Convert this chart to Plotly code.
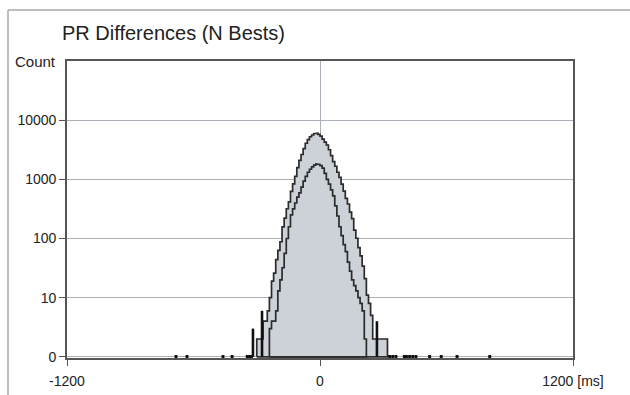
import plotly.graph_objects as go

# ---------------- data ----------------
bin_width = 10  # ms

# outer (N-best) histogram: bins starting at -300 ms
outer_start = -300
outer_counts = [2, 2, 2, 4, 4, 6, 10, 19, 26, 44, 63, 88, 157, 221, 318, 415, 628, 836,
                1119, 1582, 2091, 2627, 3305, 4068, 4681, 5243, 5618, 5893, 6021, 5749,
                5366, 4790, 4262, 3807, 3159, 2515, 1993, 1662, 1316, 1075, 829, 634,
                477, 383, 280, 216, 139, 101, 70, 51, 34, 21, 11, 8, 5,
                2, 2, 2, 2, 2, 2, 2]

# inner (best) histogram: bins starting at -240 ms
inner_start = -240
inner_counts = [3, 4, 4, 6, 13, 20, 32, 56, 100, 158, 251, 316, 398, 501, 589, 741,
                933, 1122, 1318, 1479, 1622, 1738, 1820, 1778, 1698, 1549, 1259, 1000,
                832, 661, 525, 355, 240, 158, 112, 79, 60, 40, 28, 20, 16, 13, 10, 8,
                6, 2]

# isolated single-count outliers (drawn on the baseline)
single_x = [-683, -631, -460, -417, -345, -335, -325, 330, 345, 360, 400, 410, 425,
            440, 455, 520, 575, 650, 805]
# narrow outlier spikes
spike_x = [-318, -275, 270]
spike_counts = [3, 6, 4]

x_ticks = [-1200, 0, 1200]
x_ticktext = ["-1200", "0", "1200 [ms]"]
y_ticks = [1, 10, 100, 1000, 10000]
y_ticktext = ["0", "10", "100", "1000", "10000"]

# ---------------- styling ----------------
FILL = "#cdd1d8"
EDGE = "#2b2b2b"
GRID = "#a9b0b8"
FRAME = "#555555"
FONT = "Liberation Sans, Arial, sans-serif"

W, H = 630, 395
L, R, T, B = 67, 57, 61, 37
PW, PH = W - L - R, H - T - B


def px_x(p):
    return (p - L) / PW


def px_y(p):
    return (H - B - p) / PH


def step_polygon(start, counts):
    xs, ys = [start], [1]
    for i, c in enumerate(counts):
        left = start + i * bin_width
        v = max(c, 1)
        xs += [left, left + bin_width]
        ys += [v, v]
    end = start + len(counts) * bin_width
    xs += [end, start]
    ys += [1, 1]
    return xs, ys


fig = go.Figure()

ox, oy = step_polygon(outer_start, outer_counts)
fig.add_trace(go.Scatter(x=ox, y=oy, mode="lines", fill="toself", fillcolor=FILL,
                         line=dict(color=EDGE, width=1.7), hoverinfo="skip",
                         showlegend=False))
ix, iy = step_polygon(inner_start, inner_counts)
fig.add_trace(go.Scatter(x=ix, y=iy, mode="lines", fill="toself", fillcolor=FILL,
                         line=dict(color=EDGE, width=1.7), hoverinfo="skip",
                         showlegend=False))

# outliers
bx, by = [], []
for x in single_x:
    bx += [x - 7, x + 7, None]
    by += [1, 1, None]
fig.add_trace(go.Scatter(x=bx, y=by, mode="lines", line=dict(color="#111111", width=3.6),
                         hoverinfo="skip", showlegend=False))
sx, sy = [], []
for x, c in zip(spike_x, spike_counts):
    sx += [x, x, None]
    sy += [1, c, None]
fig.add_trace(go.Scatter(x=sx, y=sy, mode="lines", line=dict(color="#111111", width=2.6),
                         hoverinfo="skip", showlegend=False))

fig.update_layout(
    width=W, height=H,
    margin=dict(l=L, r=R, t=T, b=B, pad=0),
    paper_bgcolor="white", plot_bgcolor="white",
    font=dict(family=FONT, size=14, color="#222222"),
    xaxis=dict(range=[-1200, 1200], tickvals=x_ticks, ticktext=x_ticktext,
               showgrid=True, gridcolor=GRID, gridwidth=1.2, zeroline=False,
               showline=True, mirror=True, linecolor=FRAME, linewidth=1.6,
               ticks="outside", ticklen=6, tickcolor=FRAME, tickwidth=1.2,
               ticklabelstandoff=3, tickfont=dict(size=14), automargin=False),
    yaxis=dict(type="log", range=[-0.02, 5], tickvals=y_ticks, ticktext=y_ticktext,
               showgrid=True, gridcolor=GRID, gridwidth=1.2, zeroline=False,
               showline=True, mirror=True, linecolor=FRAME, linewidth=1.6,
               ticks="outside", ticklen=6, tickcolor=FRAME, tickwidth=1.2,
               tickfont=dict(size=14), automargin=False),
    annotations=[
        dict(text="PR Differences (N Bests)", xref="paper", yref="paper",
             x=px_x(60), y=px_y(33), xanchor="left", yanchor="middle",
             showarrow=False, font=dict(size=20, family=FONT, color="#222222")),
        dict(text="Count", xref="paper", yref="paper",
             x=px_x(58), y=px_y(61), xanchor="right", yanchor="middle",
             showarrow=False, font=dict(size=15, family=FONT, color="#222222")),
    ],
    shapes=[
        dict(type="line", xref="paper", yref="paper", x0=px_x(8), x1=px_x(8),
             y0=px_y(400), y1=px_y(10), line=dict(color="#a8a8a8", width=1.5)),
        dict(type="line", xref="paper", yref="paper", x0=px_x(8), x1=px_x(640),
             y0=px_y(10), y1=px_y(10), line=dict(color="#a8a8a8", width=1.5)),
    ],
)

fig.write_html("out.html", config={"displayModeBar": False},
               post_script="document.body.style.margin='0';")
